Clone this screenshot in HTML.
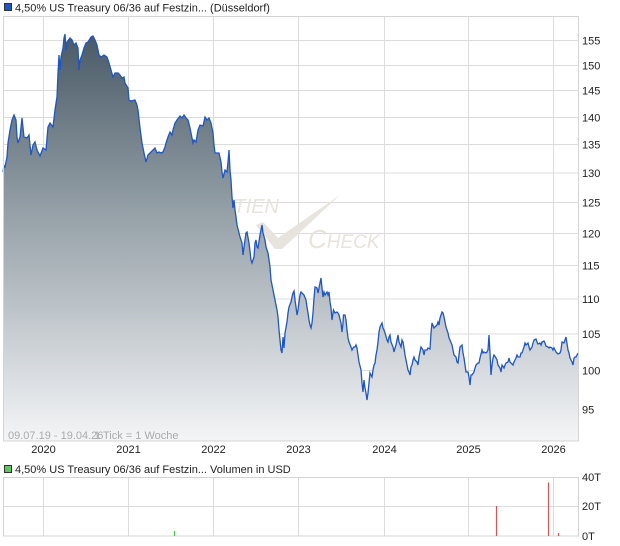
<!DOCTYPE html>
<html><head><meta charset="utf-8"><style>
html,body{margin:0;padding:0;background:#fff;}
svg{display:block;font-family:"Liberation Sans",Arial,sans-serif;}
</style></head><body>
<svg width="620" height="546" viewBox="0 0 620 546" xmlns="http://www.w3.org/2000/svg">
<defs>
<linearGradient id="g" x1="0" y1="30" x2="0" y2="441" gradientUnits="userSpaceOnUse">
<stop offset="0" stop-color="#475865"/>
<stop offset="0.45" stop-color="#96a1a8"/>
<stop offset="1" stop-color="#f4f5f7"/>
</linearGradient>
</defs>
<rect width="620" height="546" fill="#fff"/>
<!-- legend 1 -->
<rect x="4.5" y="3.5" width="7" height="7" fill="#1f55c0" stroke="#333" stroke-width="1"/>
<text x="15" y="11.5" font-size="11" fill="#222">4,50% US Treasury 06/36 auf Festzin... (Düsseldorf)</text>
<!-- main grid -->
<g stroke="#dcdcdc" stroke-width="1">
<line x1="3" y1="409.5" x2="578" y2="409.5"/>
<line x1="3" y1="370.5" x2="578" y2="370.5"/>
<line x1="3" y1="334" x2="578" y2="334"/>
<line x1="3" y1="299" x2="578" y2="299"/>
<line x1="3" y1="265.5" x2="578" y2="265.5"/>
<line x1="3" y1="233.5" x2="578" y2="233.5"/>
<line x1="3" y1="202.5" x2="578" y2="202.5"/>
<line x1="3" y1="173" x2="578" y2="173"/>
<line x1="3" y1="144.5" x2="578" y2="144.5"/>
<line x1="3" y1="117.5" x2="578" y2="117.5"/>
<line x1="3" y1="90.5" x2="578" y2="90.5"/>
<line x1="3" y1="65.5" x2="578" y2="65.5"/>
<line x1="3" y1="40.5" x2="578" y2="40.5"/>
<line x1="43.5" y1="16" x2="43.5" y2="441"/>
<line x1="128.5" y1="16" x2="128.5" y2="441"/>
<line x1="213.5" y1="16" x2="213.5" y2="441"/>
<line x1="298.5" y1="16" x2="298.5" y2="441"/>
<line x1="384.5" y1="16" x2="384.5" y2="441"/>
<line x1="468.5" y1="16" x2="468.5" y2="441"/>
<line x1="553.5" y1="16" x2="553.5" y2="441"/>
</g>
<!-- watermark -->
<g fill="#e7e3dd">
<text x="279" y="213" font-size="20" font-style="italic" text-anchor="end">AKTIEN</text>
<text x="308" y="248" font-style="italic"><tspan font-size="26">C</tspan><tspan font-size="19">HECK</tspan></text>
<polygon points="256,225 263,222 278,238 340,195 282,249 275,249"/>
</g>
<!-- area -->
<path fill="url(#g)" d="M3,441 L3,172 4,166 5,167 7,157 8,143 10,130 12,120 14,115 16,120 17,137 18,143 20,137 22,118 24,137 27,138 29,135 31,155 33,145 35,142 37,150 40,156 43,148 46,150 48,127 50,123 53,127 55,110 57,97 58,73 59,55 60,70 61,57 63,48 64,38 65,34 66,50 67,42 70,38 72,40 74,45 76,43 78,48 79,70 80,60 82,55 84,48 86,43 88,42 91,37 93,36 95,40 97,45 99,55 101,57 104,55 107,57 109,63 111,70 113,77 115,73 118,73 120,75 122,78 124,77 125,83 128,88 129,100 131,101 135,100 137,105 138,110 140,128 142,143 144,153 146,162 148,155 150,153 153,150 155,148 157,153 159,152 161,153 163,152 165,147 166,143 168,137 170,132 172,135 173,130 175,123 177,120 180,116 182,118 184,115 186,118 188,120 190,128 193,143 194,140 196,142 198,130 200,125 203,126 205,117 207,120 209,118 211,123 213,133 214,145 215,153 217,153 219,153 221,162 222,172 223,178 225,170 227,172 228,162 229,150 230,170 231,180 232,197 233,208 234,200 235,210 236,217 237,225 239,233 240,237 242,243 243,255 244,247 246,233 247,232 249,243 251,260 252,263 254,257 255,243 256,240 257,247 258,248 260,235 261,230 262,225 263,233 265,240 266,247 268,253 270,267 271,280 273,290 275,300 277,310 278,317 279,330 280,340 281,350 282,353 283,337 283.5,342 284,348 285,333 287,322 288,313 289,307 291,302 292,297 293,293 294,291 295,300 296,307 297,315 298,310 299,302 300,295 301,292 302,293 304,295 306,300 307,307 308,313 309,320 310,325 311,328 312,323 313,313 314,298 315,287 317,288 318,293 319,288 320,283 321,278 322,288 323,297 324,292 325,295 327,292 328,295 329,292 330,302 331,308 332,320 333,313 333.5,310 335,313 337,312 338,313 339,315 341,323 342,332 343,323 343.5,315 345,315 346,320 347,330 348,338 349,342 351,347 352,350 353,348 354,347 355,347 356,345 357,348 358,355 359,362 361,370 362,383 363,392 364,380 365,388 366,393 367,400 368,393 369,383 369.5,378 370,373 372,377 373,370 374,365 375,363 376,355 377,350 378,342 379,332 380,327 381,325 382,323 383,328 384,330 385,333 387,340 388,342 389,337 390,335 391,342 393,347 394,352 395,348 396,345 397,340 398,335 399,342 401,347 402,340 403,342 404,348 405,355 407,365 408,370 409,372 410,375 411,367 412,365 413,360 414,357 415,360 417,362 418,365 419,357 420,352 421,347 423,350 424,355 425,350 427,350 428,348 430,349 431,333 432,323 434,328 435,327 437,325 438,322 439,325 440,318 442,312 443,313 444,317 445,322 446,327 448,333 449,338 450,340 452,345 453,350 454,355 456,357 457,362 458,363 459,355 460,347 462,345 463,353 464,358 465,365 466,372 468,372 469,377 470,385 471,375 472,375 474,372 475,368 476,365 478,363 479,363 480,358 482,350 483,353 484,352 486,353 487,352 488,350 489,335 490,353 491,375 492,365 493,358 494,355 496,358 497,360 498,365 500,368 501,372 502,365 504,368 505,365 506,363 508,362 509,358 510,362 512,364 513,365 514,362 516,358 517,355 518,357 520,357 521,353 522,353 524,347 525,343 526,345 528,343 529,347 530,350 532,347 533,343 534,340 536,339 537,342 538,344 540,343 541,345 542,342 544,341 545,343 546,346 548,347 549,348 550,347 552,348 553,350 554,348 556,352 557,353 558,354 560,353 561,350 562,342 564,343 565,340 566,337 568,350 569,353 570,358 572,362 573,365 574,358 575,357 576,357 578,353 L578,441 Z"/>
<polyline fill="none" stroke="#1f56c4" stroke-width="1.3" stroke-linejoin="miter" points="3,172 4,166 5,167 7,157 8,143 10,130 12,120 14,115 16,120 17,137 18,143 20,137 22,118 24,137 27,138 29,135 31,155 33,145 35,142 37,150 40,156 43,148 46,150 48,127 50,123 53,127 55,110 57,97 58,73 59,55 60,70 61,57 63,48 64,38 65,34 66,50 67,42 70,38 72,40 74,45 76,43 78,48 79,70 80,60 82,55 84,48 86,43 88,42 91,37 93,36 95,40 97,45 99,55 101,57 104,55 107,57 109,63 111,70 113,77 115,73 118,73 120,75 122,78 124,77 125,83 128,88 129,100 131,101 135,100 137,105 138,110 140,128 142,143 144,153 146,162 148,155 150,153 153,150 155,148 157,153 159,152 161,153 163,152 165,147 166,143 168,137 170,132 172,135 173,130 175,123 177,120 180,116 182,118 184,115 186,118 188,120 190,128 193,143 194,140 196,142 198,130 200,125 203,126 205,117 207,120 209,118 211,123 213,133 214,145 215,153 217,153 219,153 221,162 222,172 223,178 225,170 227,172 228,162 229,150 230,170 231,180 232,197 233,208 234,200 235,210 236,217 237,225 239,233 240,237 242,243 243,255 244,247 246,233 247,232 249,243 251,260 252,263 254,257 255,243 256,240 257,247 258,248 260,235 261,230 262,225 263,233 265,240 266,247 268,253 270,267 271,280 273,290 275,300 277,310 278,317 279,330 280,340 281,350 282,353 283,337 283.5,342 284,348 285,333 287,322 288,313 289,307 291,302 292,297 293,293 294,291 295,300 296,307 297,315 298,310 299,302 300,295 301,292 302,293 304,295 306,300 307,307 308,313 309,320 310,325 311,328 312,323 313,313 314,298 315,287 317,288 318,293 319,288 320,283 321,278 322,288 323,297 324,292 325,295 327,292 328,295 329,292 330,302 331,308 332,320 333,313 333.5,310 335,313 337,312 338,313 339,315 341,323 342,332 343,323 343.5,315 345,315 346,320 347,330 348,338 349,342 351,347 352,350 353,348 354,347 355,347 356,345 357,348 358,355 359,362 361,370 362,383 363,392 364,380 365,388 366,393 367,400 368,393 369,383 369.5,378 370,373 372,377 373,370 374,365 375,363 376,355 377,350 378,342 379,332 380,327 381,325 382,323 383,328 384,330 385,333 387,340 388,342 389,337 390,335 391,342 393,347 394,352 395,348 396,345 397,340 398,335 399,342 401,347 402,340 403,342 404,348 405,355 407,365 408,370 409,372 410,375 411,367 412,365 413,360 414,357 415,360 417,362 418,365 419,357 420,352 421,347 423,350 424,355 425,350 427,350 428,348 430,349 431,333 432,323 434,328 435,327 437,325 438,322 439,325 440,318 442,312 443,313 444,317 445,322 446,327 448,333 449,338 450,340 452,345 453,350 454,355 456,357 457,362 458,363 459,355 460,347 462,345 463,353 464,358 465,365 466,372 468,372 469,377 470,385 471,375 472,375 474,372 475,368 476,365 478,363 479,363 480,358 482,350 483,353 484,352 486,353 487,352 488,350 489,335 490,353 491,375 492,365 493,358 494,355 496,358 497,360 498,365 500,368 501,372 502,365 504,368 505,365 506,363 508,362 509,358 510,362 512,364 513,365 514,362 516,358 517,355 518,357 520,357 521,353 522,353 524,347 525,343 526,345 528,343 529,347 530,350 532,347 533,343 534,340 536,339 537,342 538,344 540,343 541,345 542,342 544,341 545,343 546,346 548,347 549,348 550,347 552,348 553,350 554,348 556,352 557,353 558,354 560,353 561,350 562,342 564,343 565,340 566,337 568,350 569,353 570,358 572,362 573,365 574,358 575,357 576,357 578,353"/>
<!-- border -->
<rect x="3.5" y="16.5" width="575" height="424.5" fill="none" stroke="#d4d4d4" stroke-width="1"/>
<!-- date text -->
<text x="8" y="439" font-size="11" fill="#aaa">09.07.19 - 19.04.26</text>
<text x="94" y="439" font-size="11" fill="#aaa">1 Tick = 1 Woche</text>
<!-- right labels -->
<g font-size="11" fill="#222">
<text x="582" y="413.5">95</text>
<text x="582" y="374.5">100</text>
<text x="582" y="338">105</text>
<text x="582" y="303">110</text>
<text x="582" y="269.5">115</text>
<text x="582" y="237.5">120</text>
<text x="582" y="206.5">125</text>
<text x="582" y="177">130</text>
<text x="582" y="148.5">135</text>
<text x="582" y="121.5">140</text>
<text x="582" y="94.5">145</text>
<text x="582" y="69.5">150</text>
<text x="582" y="44.5">155</text>
</g>
<!-- year labels -->
<g font-size="11" fill="#222" text-anchor="middle">
<text x="43.5" y="453">2020</text>
<text x="128.5" y="453">2021</text>
<text x="213.5" y="453">2022</text>
<text x="298.5" y="453">2023</text>
<text x="384.5" y="453">2024</text>
<text x="468.5" y="453">2025</text>
<text x="553.5" y="453">2026</text>
</g>
<!-- legend 2 -->
<rect x="4.5" y="465.5" width="7" height="7" fill="#5cc85c" stroke="#333" stroke-width="1"/>
<text x="15" y="473" font-size="11" fill="#222">4,50% US Treasury 06/36 auf Festzin... Volumen in USD</text>
<!-- volume chart -->
<g stroke="#dcdcdc" stroke-width="1">
<line x1="3" y1="506.5" x2="578" y2="506.5"/>
<line x1="43.5" y1="477" x2="43.5" y2="536"/>
<line x1="128.5" y1="477" x2="128.5" y2="536"/>
<line x1="213.5" y1="477" x2="213.5" y2="536"/>
<line x1="298.5" y1="477" x2="298.5" y2="536"/>
<line x1="384.5" y1="477" x2="384.5" y2="536"/>
<line x1="468.5" y1="477" x2="468.5" y2="536"/>
<line x1="553.5" y1="477" x2="553.5" y2="536"/>
</g>
<rect x="3.5" y="477.5" width="575" height="58.5" fill="none" stroke="#d4d4d4" stroke-width="1"/>
<g stroke-width="1.2">
<line x1="174.5" y1="531" x2="174.5" y2="536" stroke="#44cc44"/>
<line x1="496.5" y1="506" x2="496.5" y2="536" stroke="#e05050"/>
<line x1="548.5" y1="482.5" x2="548.5" y2="536" stroke="#e05050"/>
<line x1="558.5" y1="533" x2="558.5" y2="536" stroke="#e05050"/>
</g>
<g font-size="11" fill="#222">
<text x="582" y="481">40T</text>
<text x="582" y="510">20T</text>
<text x="582" y="540">0T</text>
</g>
</svg>
</body></html>
